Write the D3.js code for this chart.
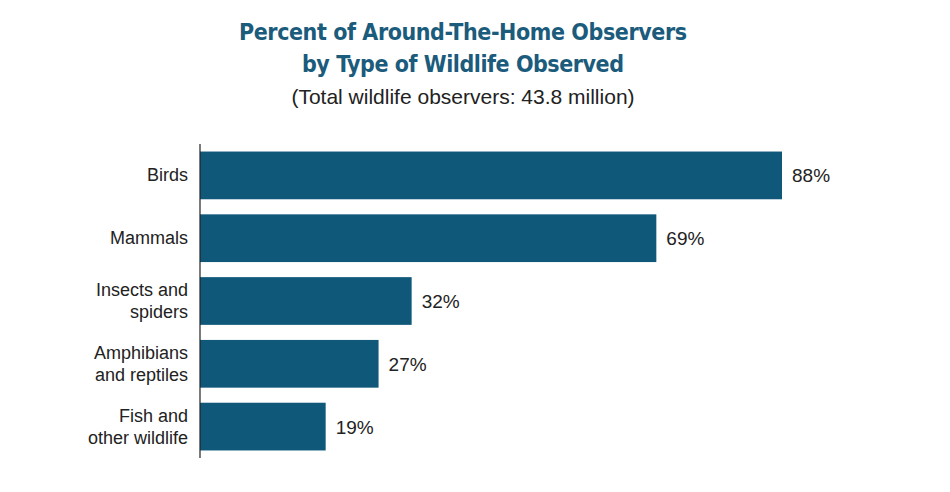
<!DOCTYPE html>
<html>
<head>
<meta charset="utf-8">
<script src="https://d3js.org/d3.v7.min.js"></script>
<style>
  body { margin: 0; background: #fff; }
  svg { display: block; }
</style>
</head>
<body>
<svg id="chart" width="950" height="492"></svg>
<script>
// categories (multi-line labels) and percentages
const categories = [["Birds"], ["Mammals"], ["Insects and", "spiders"], ["Amphibians", "and reptiles"], ["Fish and", "other wildlife"]];
const values = [88, 69, 32, 27, 19];

const svg = d3.select("#chart");
const barColor = "#0f587a";
const left = 200;

// title
svg.append("text").attr("x", 463).attr("y", 40).attr("text-anchor", "middle")
  .style("font-family", "DejaVu Sans Condensed, DejaVu Sans").style("font-weight", "bold")
  .style("font-size", "23px").attr("fill", "#1b5b7c").attr("textLength", 448)
  .text("Percent of Around-The-Home Observers");
svg.append("text").attr("x", 463).attr("y", 72).attr("text-anchor", "middle")
  .style("font-family", "DejaVu Sans Condensed, DejaVu Sans").style("font-weight", "bold")
  .style("font-size", "23px").attr("fill", "#1b5b7c").attr("textLength", 322)
  .text("by Type of Wildlife Observed");
svg.append("text").attr("x", 463).attr("y", 104).attr("text-anchor", "middle")
  .style("font-family", "Liberation Sans, Arial").style("font-size", "21px")
  .attr("fill", "#222")
  .text("(Total wildlife observers:  43.8 million)");

const x = d3.scaleLinear().domain([0, 88]).range([left, 782]);
const y = d3.scaleBand().domain(d3.range(values.length)).range([144, 458]).paddingInner(0.24).paddingOuter(0.12);

svg.selectAll("rect.bar").data(values).enter().append("rect")
  .attr("class", "bar")
  .attr("x", x(0)).attr("y", (d, i) => y(i))
  .attr("width", d => x(d) - x(0)).attr("height", y.bandwidth())
  .attr("fill", barColor);

svg.selectAll("text.val").data(values).enter().append("text")
  .attr("class", "val")
  .attr("x", d => x(d) + 10).attr("y", (d, i) => y(i) + y.bandwidth() / 2 + 7)
  .style("font-family", "Liberation Sans, Arial").style("font-size", "19px").attr("fill", "#222")
  .text(d => d + "%");

const labels = svg.selectAll("text.cat").data(categories).enter().append("text")
  .attr("class", "cat").attr("text-anchor", "end")
  .style("font-family", "Liberation Sans, Arial").style("font-size", "18px").attr("fill", "#222");
labels.each(function (lines, i) {
  const cy = y(i) + y.bandwidth() / 2;
  const start = cy - (lines.length - 1) * 11 + 6;
  d3.select(this).selectAll("tspan").data(lines).enter().append("tspan")
    .attr("x", left - 12).attr("y", (d, j) => start + j * 22).text(d => d);
});

svg.append("line").attr("x1", left).attr("x2", left).attr("y1", 144).attr("y2", 458)
  .attr("stroke", "#222").attr("stroke-width", 1.2);
</script>
</body>
</html>
